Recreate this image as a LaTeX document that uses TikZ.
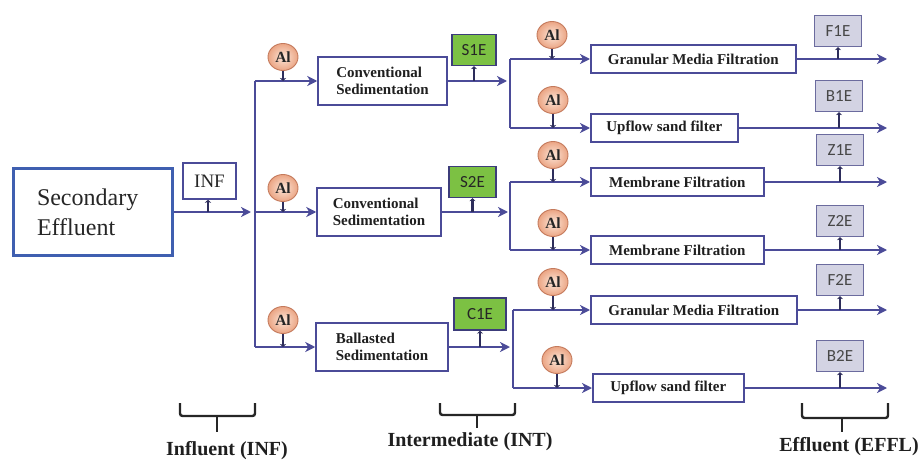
\documentclass[tikz,border=0pt]{standalone}
\usepackage{fontspec}
\setmainfont{Liberation Serif}
\newfontfamily\labfont{Carlito}
\usetikzlibrary{shapes.geometric,arrows.meta}
\definecolor{flow}{HTML}{4B4B98}
\definecolor{sebox}{HTML}{3F5FB0}
\definecolor{alb}{HTML}{C47A5C}
\definecolor{alin}{HTML}{FCE6D8}
\definecolor{alout}{HTML}{EBA584}
\definecolor{sampf}{HTML}{D3D3E3}
\definecolor{sampd}{HTML}{6B6B9E}
\definecolor{grn}{HTML}{7CC143}
\begin{document}
\begin{tikzpicture}[x=1pt,y=-1pt,
  proc/.style={draw=flow, line width=1.5pt, fill=white, minimum height=28pt, inner sep=0pt, text=black!88, font=\fontsize{15}{16.5}\selectfont\bfseries},
  sedbox/.style={proc, minimum height=48pt, align=left},
  albub/.style={ellipse, draw=alb, line width=0.9pt, inner color=alin, outer color=alout, minimum width=30pt, minimum height=27pt, inner sep=0pt, text=black!85, font=\fontsize{15.5}{15.5}\selectfont\bfseries},
  samp/.style={draw=sampd, fill=sampf, line width=1.3pt, minimum width=47pt, minimum height=31pt, inner sep=0pt, text=black!72, font=\labfont\fontsize{17}{17}\selectfont},
  grnbox/.style={samp, fill=grn, draw=flow!80!black, text=black!85},
  flowline/.style={draw=flow, line width=2.2pt},
  arr/.style={flowline, -{Stealth[length=10pt,width=10pt,inset=3pt]}},
  tick/.style={draw=flow!60!black, line width=2.4pt, -{Stealth[length=3pt,width=6pt]}},
  brc/.style={draw=black!85, line width=2.4pt, rounded corners=2.5pt},
  lab/.style={font=\fontsize{20}{20}\selectfont\bfseries, text=black!88}
]
\useasboundingbox (0,0) rectangle (919,460);

% Secondary effluent
\node[draw=sebox, line width=3pt, fill=white, minimum width=159pt, minimum height=87pt, text width=111pt, inner xsep=24pt, align=left, font=\fontsize{24}{30}\selectfont, text=black!85] (se) at (92.5,212) {Secondary\\Effluent};
\node[draw=flow, line width=1.5pt, fill=white, minimum width=53pt, minimum height=36pt, inner sep=0pt, font=\fontsize{19}{19}\selectfont, text=black!85] (inf) at (209.5,181) {INF};

% trunk
\coordinate (j0) at (255,212);
\coordinate (j0a) at (251,212);
\coordinate (tA) at (255,81);
\coordinate (tC) at (255,347);
\coordinate (infl) at (208,212);
\draw[arr] (se) -- (j0a);
\draw[tick] (infl) -- (inf.south -| infl);
\draw[flowline] (tA) -- (tC);

% sedimentation
\node[sedbox, minimum width=129pt] (sed1) at (382.5,81) {Conventional\\Sedimentation};
\node[sedbox, minimum width=124pt] (sed2) at (379,212) {Conventional\\Sedimentation};
\node[sedbox, minimum width=132pt] (sed3) at (382,347) {Ballasted\\Sedimentation};
\draw[arr] (tA) -- (sed1);
\draw[arr] (j0) -- (sed2);
\draw[arr] (tC) -- (sed3);

\node[albub] (a1) at (283,57) {Al};
\node[albub] (a2) at (283,188) {Al};
\node[albub] (a3) at (283,320) {Al};
\draw[tick] (a1) -- (a1 |- sed1);
\draw[tick] (a2) -- (a2 |- sed2);
\draw[tick] (a3) -- (a3 |- sed3);

% intermediate samples
\node[grnbox, minimum width=44pt] (s1e) at (474,50) {S1E};
\node[grnbox] (s2e) at (472.5,182) {S2E};
\node[grnbox, minimum width=52pt, minimum height=32pt] (c1e) at (480,314) {C1E};

% splits
\coordinate (sA) at (507,81);
\coordinate (sB) at (508,212);
\coordinate (sC) at (510,347);
\coordinate (pA1) at (510,59);  \coordinate (pA2) at (510,128);
\coordinate (pB1) at (510,182); \coordinate (pB2) at (510,250);
\coordinate (pC1) at (513,310); \coordinate (pC2) at (513,388);
\draw[arr] (sed1) -- (sA);
\draw[arr] (sed2) -- (sB);
\draw[arr] (sed3) -- (sC);
\draw[tick] (s1e |- sed1) -- (s1e.south);
\draw[tick] (s2e |- sed2) -- (s2e.south);
\draw[tick] (c1e |- sed3) -- (c1e.south);
\draw[flowline] (pA1) -- (pA2);
\draw[flowline] (pB1) -- (pB2);
\draw[flowline] (pC1) -- (pC2);

% filters
\node[proc, minimum width=205pt, anchor=west] (f1) at (590,59) {Granular Media Filtration};
\node[proc, minimum width=147pt, anchor=west] (f2) at (590,128) {Upflow sand filter};
\node[proc, minimum width=173pt, anchor=west] (f3) at (590,182) {Membrane Filtration};
\node[proc, minimum width=173pt, anchor=west] (f4) at (590,250) {Membrane Filtration};
\node[proc, minimum width=206pt, anchor=west] (f5) at (590,310) {Granular Media Filtration};
\node[proc, minimum width=151pt, anchor=west] (f6) at (592,388) {Upflow sand filter};
\draw[arr] (pA1) -- (f1);
\draw[arr] (pA2) -- (f2);
\draw[arr] (pB1) -- (f3);
\draw[arr] (pB2) -- (f4);
\draw[arr] (pC1) -- (f5);
\draw[arr] (pC2) -- (f6);

\node[albub] (b1) at (552,35) {Al};
\node[albub] (b2) at (553,100) {Al};
\node[albub] (b3) at (553,155) {Al};
\node[albub] (b4) at (553,223) {Al};
\node[albub] (b5) at (553,282) {Al};
\node[albub] (b6) at (557,360) {Al};
\draw[tick] (b1) -- (b1 |- f1);
\draw[tick] (b2) -- (b2 |- f2);
\draw[tick] (b3) -- (b3 |- f3);
\draw[tick] (b4) -- (b4 |- f4);
\draw[tick] (b5) -- (b5 |- f5);
\draw[tick] (b6) -- (b6 |- f6);

% outputs
\coordinate (o1) at (887,59);
\coordinate (o2) at (887,128);
\coordinate (o3) at (887,182);
\coordinate (o4) at (887,250);
\coordinate (o5) at (887,310);
\coordinate (o6) at (887,388);
\draw[arr] (f1) -- (o1);
\draw[arr] (f2) -- (o2);
\draw[arr] (f3) -- (o3);
\draw[arr] (f4) -- (o4);
\draw[arr] (f5) -- (o5);
\draw[arr] (f6) -- (o6);

\node[samp] (e1) at (838,31) {F1E};
\node[samp] (e2) at (839,96) {B1E};
\node[samp] (e3) at (840,150) {Z1E};
\node[samp] (e4) at (840,221) {Z2E};
\node[samp] (e5) at (840,280) {F2E};
\node[samp] (e6) at (840,356) {B2E};
\draw[tick] (e1 |- o1) -- (e1.south);
\draw[tick] (e2 |- o2) -- (e2.south);
\draw[tick] (e3 |- o3) -- (e3.south);
\draw[tick] (e4 |- o4) -- (e4.south);
\draw[tick] (e5 |- o5) -- (e5.south);
\draw[tick] (e6 |- o6) -- (e6.south);

% braces
\draw[brc] (180,403) -- (180,416) -- (255,416) -- (255,403);
\draw[brc] (217,416) -- (217,432);
\draw[brc] (440,403) -- (440,415) -- (515,415) -- (515,403);
\draw[brc] (477,415) -- (477,428);
\draw[brc] (802,403) -- (802,418) -- (888,418) -- (888,403);
\draw[brc] (842,418) -- (842,432);
\node[lab] (l1) at (227,451) {Influent (INF)};
\node[lab] (l2) at (470,442) {Intermediate (INT)};
\node[lab] (l3) at (849,447) {Effluent (EFFL)};
\end{tikzpicture}
\end{document}
